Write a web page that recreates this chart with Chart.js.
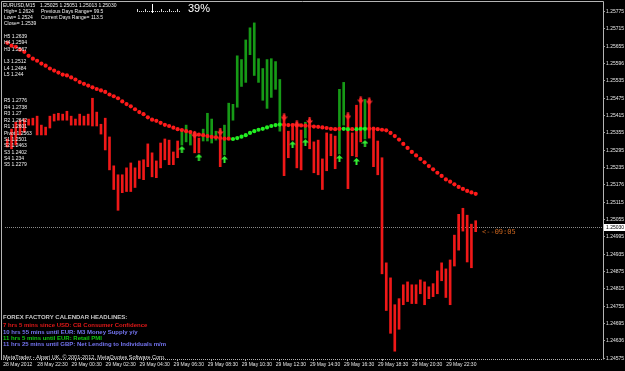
<!DOCTYPE html>
<html>
<head>
<meta charset="utf-8">
<script src="https://cdn.jsdelivr.net/npm/chart.js@4.4.0/dist/chart.umd.min.js"></script>
<style>
html, body { margin: 0; padding: 0; background: #000; }
canvas { display: block; }
</style>
</head>
<body>
<canvas id="chartFx" width="625" height="371"></canvas>
<script>
// EURUSD M15 bars, 28 May 20:30 -> 30 May 00:00 (index = 15 min slot)
const barHigh = [
  1.25334, 1.25368, 1.25392, 1.25399, 1.25403, 1.25403, 1.25406, 1.25413, 1.25382, 1.25375,
  1.25413, 1.25420, 1.25423, 1.25420, 1.25430, 1.25413, 1.25403, 1.25420, 1.25413, 1.25420,
  1.25475, 1.25427, 1.25385, 1.25406, 1.25341, 1.25241, 1.25210, 1.25210, 1.25234, 1.25251,
  1.25234, 1.25258, 1.25262, 1.25317, 1.25286, 1.25258, 1.25320, 1.25334, 1.25330, 1.25289,
  1.25327, 1.25365, 1.25382, 1.25358, 1.25355, 1.25337, 1.25368, 1.25423, 1.25403, 1.25361,
  1.25365, 1.25382, 1.25458, 1.25454, 1.25622, 1.25609, 1.25677, 1.25719, 1.25736, 1.25612,
  1.25578, 1.25609, 1.25612, 1.25602, 1.25540, 1.25416, 1.25361, 1.25382, 1.25392, 1.25365,
  1.25392, 1.25403, 1.25324, 1.25330, 1.25265, 1.25355, 1.25351, 1.25344, 1.25506, 1.25530,
  1.25420, 1.25355, 1.25451, 1.25475, 1.25471, 1.25471, 1.25375, 1.25327, 1.25269, 1.24905,
  1.24853, 1.24760, 1.24781, 1.24829, 1.24839, 1.24829, 1.24829, 1.24846, 1.24839, 1.24822,
  1.24833, 1.24877, 1.24905, 1.24884, 1.24915, 1.25001, 1.25073, 1.25094, 1.25070, 1.25039,
  1.25051
];
const barLow = [
  1.25306, 1.25300, 1.25313, 1.25348, 1.25358, 1.25382, 1.25382, 1.25348, 1.25348, 1.25348,
  1.25372, 1.25396, 1.25399, 1.25399, 1.25399, 1.25382, 1.25382, 1.25382, 1.25382, 1.25382,
  1.25379, 1.25379, 1.25351, 1.25296, 1.25227, 1.25159, 1.25087, 1.25148, 1.25152, 1.25152,
  1.25166, 1.25197, 1.25193, 1.25238, 1.25203, 1.25200, 1.25234, 1.25262, 1.25245, 1.25245,
  1.25269, 1.25313, 1.25324, 1.25313, 1.25286, 1.25286, 1.25327, 1.25327, 1.25320, 1.25330,
  1.25238, 1.25279, 1.25334, 1.25399, 1.25444, 1.25516, 1.25530, 1.25626, 1.25554, 1.25530,
  1.25468, 1.25440, 1.25478, 1.25506, 1.25361, 1.25207, 1.25269, 1.25330, 1.25234, 1.25227,
  1.25337, 1.25300, 1.25217, 1.25210, 1.25159, 1.25224, 1.25276, 1.25231, 1.25282, 1.25382,
  1.25162, 1.25276, 1.25272, 1.25324, 1.25334, 1.25337, 1.25238, 1.25210, 1.24867, 1.24740,
  1.24661, 1.24599, 1.24675, 1.24760, 1.24771, 1.24764, 1.24764, 1.24798, 1.24760, 1.24781,
  1.24788, 1.24798, 1.24843, 1.24785, 1.24760, 1.24894, 1.24949, 1.25015, 1.24908, 1.24888,
  1.25013
];
// dotted moving average
const maLine = [
  1.25667, 1.25657, 1.25653, 1.25643, 1.25636, 1.25622, 1.25612, 1.25605, 1.25595, 1.25588,
  1.25578, 1.25571, 1.25564, 1.25557, 1.25554, 1.25547, 1.25540, 1.25531, 1.25525, 1.25519,
  1.25513, 1.25507, 1.25502, 1.25497, 1.25488, 1.25482, 1.25475, 1.25464, 1.25455, 1.25447,
  1.25437, 1.25427, 1.25420, 1.25409, 1.25401, 1.25397, 1.25390, 1.25383, 1.25379, 1.25373,
  1.25368, 1.25365, 1.25361, 1.25358, 1.25352, 1.25349, 1.25347, 1.25344, 1.25341, 1.25340,
  1.25337, 1.25335, 1.25335, 1.25334, 1.25337, 1.25342, 1.25347, 1.25355, 1.25361, 1.25366,
  1.25369, 1.25374, 1.25379, 1.25382, 1.25384, 1.25383, 1.25382, 1.25382, 1.25381, 1.25381,
  1.25380, 1.25379, 1.25377, 1.25376, 1.25374, 1.25372, 1.25369, 1.25368, 1.25369, 1.25369,
  1.25368, 1.25368, 1.25368, 1.25369, 1.25369, 1.25369, 1.25369, 1.25368, 1.25366, 1.25364,
  1.25355, 1.25344, 1.25332, 1.25317, 1.25303, 1.25289, 1.25277, 1.25265, 1.25253, 1.25240,
  1.25229, 1.25217, 1.25206, 1.25194, 1.25186, 1.25177, 1.25168, 1.25161, 1.25154, 1.25149,
  1.25144
];
const greenBars = [41, 42, 43, 46, 47, 48, 49, 51, 52, 53, 54, 55, 56, 57, 58, 59, 60, 61, 62, 63, 64, 70, 78, 79, 84];
const maGreen = [53, 54, 55, 56, 57, 58, 59, 60, 61, 62, 63, 64, 79, 80, 82, 83, 84];
const arrowsDown = [44, 50, 65, 68, 71, 80, 83, 85];
const arrowsUp = [41, 45, 51, 67, 70, 78, 82, 84];

// one label every 8 bars (2 hours), first one at bar 0
const tickLabels = [
  "28 May 2012", "28 May 22:30", "29 May 00:30", "29 May 02:30", "29 May 04:30", "29 May 06:30", "29 May 08:30",
  "29 May 10:30", "29 May 12:30", "29 May 14:30", "29 May 16:30", "29 May 18:30", "29 May 20:30", "29 May 22:30"
];
const priceTicks = [
  1.25775, 1.25715, 1.25655, 1.25596, 1.25535, 1.25475, 1.25415, 1.25355, 1.25295, 1.25235, 1.25176,
  1.25115, 1.25055, 1.24995, 1.24935, 1.24875, 1.24815, 1.24755, 1.24695, 1.24636, 1.24575
];
const lastClose = 1.25030;

const RED = "#f01818";
const GREEN = "#169a16";

function makeArrow(color, up) {
  const c = document.createElement("canvas");
  c.width = 7;
  c.height = up ? 16 : 14;
  const g = c.getContext("2d");
  g.fillStyle = color;
  if (up) {
    g.beginPath(); g.moveTo(3.5, 9); g.lineTo(7, 12.5); g.lineTo(0, 12.5); g.closePath(); g.fill();
    g.fillRect(2.5, 12, 2, 4);
  } else {
    g.fillRect(2.5, 5, 2, 4);
    g.beginPath(); g.moveTo(0, 8.5); g.lineTo(7, 8.5); g.lineTo(3.5, 12.5); g.closePath(); g.fill();
  }
  return c;
}
const downImg = makeArrow("#ff2a2a", false);
const upImg = makeArrow("#33ee33", true);

const bars = barHigh.map((h, i) => ({ x: i, y: [barLow[i], h] }));
const barColors = barHigh.map((h, i) => greenBars.includes(i) ? GREEN : RED);
const maPoints = maLine.map((v, i) => ({ x: i, y: v }));
const maColors = maLine.map((v, i) => maGreen.includes(i) ? "#22ee22" : "#ff1a1a");
const downData = arrowsDown.map(i => ({ x: i, y: barHigh[i] }));
const upData = arrowsUp.map(i => ({ x: i, y: barLow[i] }));

const mt4Plugin = {
  id: "mt4",
  beforeDraw(chart) {
    const ctx = chart.ctx;
    ctx.save();
    ctx.fillStyle = "#000";
    ctx.fillRect(0, 0, chart.width, chart.height);
    ctx.restore();
  },
  beforeDatasetsDraw(chart) {
    const { ctx, chartArea: a, scales } = chart;
    const y = Math.round(scales.y.getPixelForValue(lastClose)) + 0.5;
    ctx.save();
    ctx.strokeStyle = "#8a8a8a";
    ctx.setLineDash([1, 1]);
    ctx.beginPath(); ctx.moveTo(a.left, y); ctx.lineTo(a.right, y); ctx.stroke();
    ctx.restore();
  },
  afterDraw(chart) {
    const { ctx, chartArea: a, scales } = chart;
    ctx.save();
    // frame
    ctx.strokeStyle = "#b4b4b4";
    ctx.lineWidth = 1;
    ctx.beginPath();
    ctx.moveTo(1.5, a.bottom); ctx.lineTo(1.5, 1.5); ctx.lineTo(a.right + 0.5, 1.5); ctx.lineTo(a.right + 0.5, a.bottom + 0.5);
    ctx.stroke();
    ctx.setLineDash([1, 1]);
    ctx.beginPath(); ctx.moveTo(1, a.bottom + 0.5); ctx.lineTo(a.right, a.bottom + 0.5); ctx.stroke();
    ctx.setLineDash([]);

    ctx.textBaseline = "middle";
    ctx.textAlign = "left";
    // header info
    ctx.fillStyle = "#f0f0f0";
    ctx.font = '5px "Liberation Sans"';
    ctx.fillText("EURUSD,M15", 3, 6);
    ctx.fillText("1.25025 1.25051 1.25013 1.25030", 40, 6);
    ctx.fillText("High= 1.2624", 4, 11.5);
    ctx.fillText("Previous Days Range= 99.5", 41, 11.5);
    ctx.fillText("Low= 1.2524", 4, 17.5);
    ctx.fillText("Current Days Range= 113.5", 41, 17.5);
    ctx.fillText("Close= 1.2539", 4, 24);

    const pivots = [
      ["H5 1.2639", 36.5], ["H4 1.2594", 43], ["H3 1.2567", 49.5],
      ["L3 1.2512", 62], ["L4 1.2484", 68.5], ["L5 1.244", 75],
      ["R5 1.2776", 101], ["R4 1.2738", 107.5], ["R3 1.27", 114], ["R2 1.2642", 120.3],
      ["R1 1.2601", 127], ["Pivot 1.2563", 133.3], ["S1 1.2501", 139.7], ["S2 1.2463", 146],
      ["S3 1.2402", 152.3], ["S4 1.234", 158.7], ["S5 1.2279", 165]
    ];
    pivots.forEach(p => ctx.fillText(p[0], 4, p[1]));

    // progress widget
    ctx.fillStyle = "#d8d8d8";
    for (let x = 137; x <= 180; x += 2) ctx.fillRect(x, 11, 1, 1);
    [137, 145, 161, 169, 177].forEach(x => ctx.fillRect(x, 9, 1, 3));
    ctx.fillStyle = "#ffffff";
    ctx.fillRect(152, 4, 1, 9);
    ctx.font = '11px "Liberation Sans"';
    ctx.fillText("39%", 188, 8.5);

    // headlines
    ctx.font = 'bold 6px "Liberation Sans"';
    ctx.fillStyle = "#c8c8c8";
    ctx.fillText("FOREX FACTORY CALENDAR HEADLINES:", 3, 317.5);
    ctx.fillStyle = "#e01818";
    ctx.fillText("7 hrs 5 mins since USD: CB Consumer Confidence", 3, 325);
    ctx.fillStyle = "#7474f0";
    ctx.fillText("10 hrs 55 mins until EUR: M3 Money Supply y/y", 3, 332);
    ctx.fillStyle = "#10c810";
    ctx.fillText("11 hrs 5 mins until EUR: Retail PMI", 3, 338.5);
    ctx.fillStyle = "#7474f0";
    ctx.fillText("11 hrs 25 mins until GBP: Net Lending to Individuals m/m", 3, 344.5);
    ctx.font = '5.5px "Liberation Sans"';
    ctx.fillStyle = "#e0e0e0";
    ctx.fillText("MetaTrader - Alpari UK, \u00a9 2001-2012, MetaQuotes Software Corp.", 3, 357);

    // countdown
    const yc = scales.y.getPixelForValue(lastClose);
    ctx.font = '7px "DejaVu Sans Mono"';
    ctx.fillStyle = "#c8641e";
    ctx.fillText("<--09:05", 482, yc + 5);

    // current price box
    ctx.fillStyle = "#ffffff";
    ctx.fillRect(a.right + 1, Math.round(yc) - 3, 22, 7);
    ctx.fillStyle = "#000000";
    ctx.font = '5px "Liberation Sans"';
    ctx.fillText(lastClose.toFixed(5), a.right + 3, Math.round(yc) + 0.5);
    ctx.restore();
  }
};

new Chart("chartFx", {
  type: "bar",
  data: {
    datasets: [
      {
        type: "line",
        data: downData,
        showLine: false,
        pointStyle: downImg,
        pointRadius: 3,
        order: 0,
      },
      {
        type: "line",
        data: upData,
        showLine: false,
        pointStyle: upImg,
        pointRadius: 3,
        order: 0,
      },
      {
        type: "line",
        data: maPoints,
        showLine: false,
        pointRadius: 2.1,
        pointBorderWidth: 0,
        pointBackgroundColor: maColors,
        order: 1,
      },
      {
        data: bars,
        backgroundColor: barColors,
        barThickness: 2,
        borderWidth: 0,
        order: 2,
      },
    ],
  },
  options: {
    responsive: false,
    animation: false,
    layout: { padding: { left: 0, top: 2, right: 0, bottom: 0 } },
    plugins: {
      legend: { display: false },
      tooltip: { enabled: false },
    },
    scales: {
      x: {
        type: "linear",
        offset: false,
        min: -0.54,
        max: 139.9,
        grid: {
          offset: false,
          drawOnChartArea: false,
          tickLength: 2,
          color: "#9a9a9a",
        },
        border: { display: false },
        afterBuildTicks: s => { s.ticks = tickLabels.map((t, k) => ({ value: k * 8 })); },
        afterFit: s => { s.height = 12; },
        ticks: {
          autoSkip: false,
          maxRotation: 0,
          align: "start",
          labelOffset: -4,
          padding: 1,
          color: "#e6e6e6",
          font: { family: "Liberation Sans", size: 5 },
          callback: v => tickLabels[v / 8],
        },
      },
      y: {
        position: "right",
        min: 1.24572,
        max: 1.25798,
        grid: {
          drawOnChartArea: false,
          tickLength: 2,
          color: "#9a9a9a",
        },
        border: { display: false },
        afterBuildTicks: s => { s.ticks = priceTicks.map(v => ({ value: v })); },
        afterFit: s => { s.width = 22; },
        ticks: {
          padding: 1,
          color: "#e6e6e6",
          font: { family: "Liberation Sans", size: 5 },
          callback: v => v.toFixed(5),
        },
      },
    },
  },
  plugins: [mt4Plugin],
});
</script>
</body>
</html>
